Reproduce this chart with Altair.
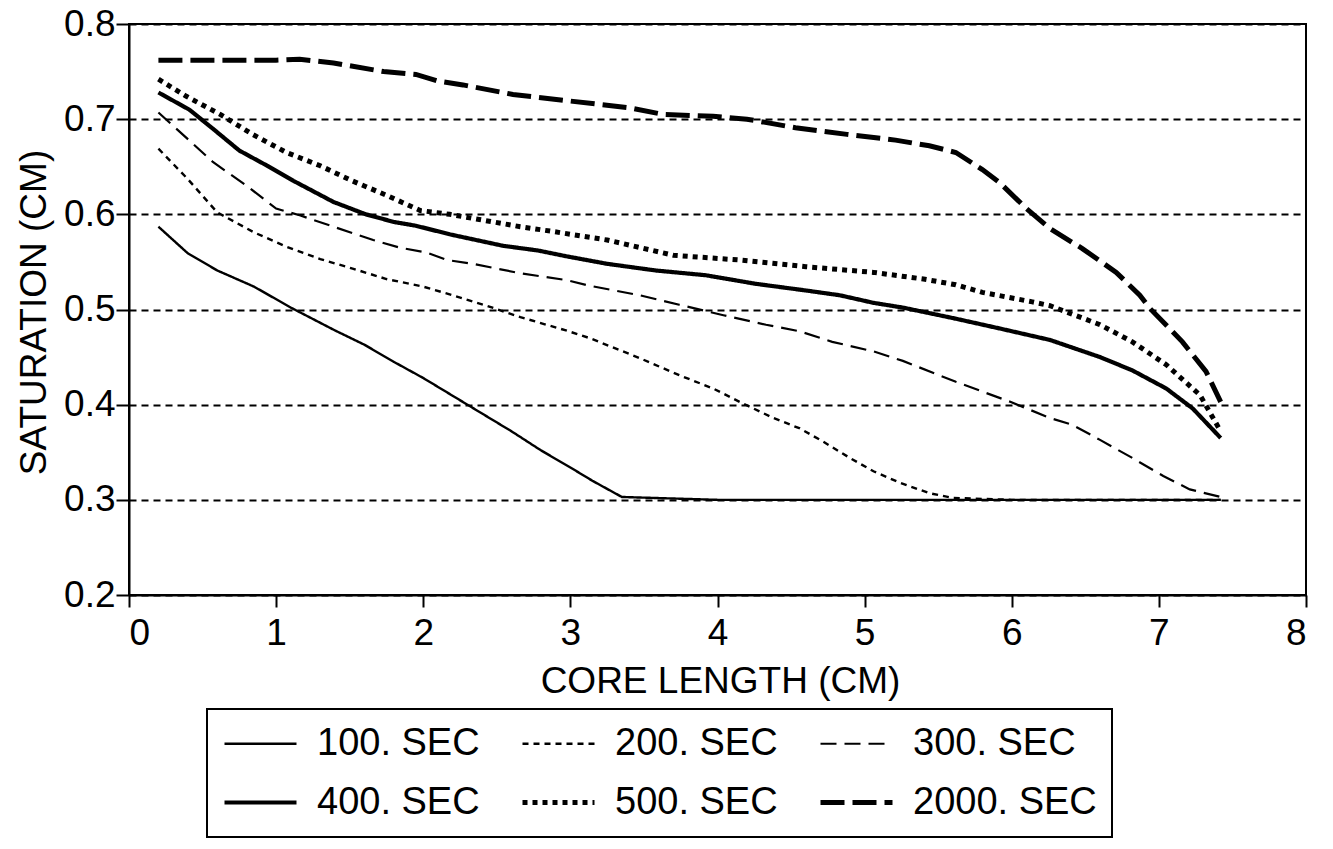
import altair as alt
import pandas as pd

series_names = ["100. SEC", "200. SEC", "300. SEC", "400. SEC", "500. SEC", "2000. SEC"]

s100_x = [0.2, 0.4, 0.6, 0.85, 1.1, 1.4, 1.6, 1.8, 2.0, 2.3, 2.6, 2.8, 3.0, 3.15, 3.35, 4.0, 5.0, 6.0, 7.0, 7.42]
s100_y = [0.587, 0.559, 0.541, 0.524, 0.502, 0.478, 0.463, 0.445, 0.428, 0.400, 0.372, 0.352, 0.334, 0.320, 0.303, 0.300, 0.300, 0.300, 0.300, 0.300]

s200_x = [0.2, 0.4, 0.6, 0.85, 1.07, 1.3, 1.52, 1.75, 2.0, 2.2, 2.43, 2.66, 2.97, 3.13, 3.47, 3.74, 3.97, 4.15, 4.38, 4.56, 4.72, 4.9, 5.06, 5.24, 5.44, 5.6, 6.0, 7.0, 7.42]
s200_y = [0.669, 0.637, 0.602, 0.581, 0.566, 0.553, 0.543, 0.532, 0.524, 0.515, 0.504, 0.492, 0.478, 0.470, 0.449, 0.431, 0.417, 0.403, 0.386, 0.375, 0.361, 0.344, 0.330, 0.318, 0.307, 0.302, 0.300, 0.300, 0.300]

s300_x = [0.2, 0.4, 0.57, 0.8, 1.0, 1.16, 1.39, 1.66, 1.84, 2.02, 2.16, 2.34, 2.66, 2.97, 3.13, 3.47, 3.74, 4.04, 4.33, 4.56, 4.78, 5.06, 5.26, 5.62, 5.99, 6.26, 6.41, 6.6, 6.82, 7.03, 7.21, 7.42]
s300_y = [0.707, 0.679, 0.655, 0.630, 0.606, 0.599, 0.587, 0.573, 0.565, 0.560, 0.552, 0.548, 0.538, 0.531, 0.525, 0.515, 0.505, 0.494, 0.484, 0.477, 0.466, 0.456, 0.446, 0.424, 0.403, 0.386, 0.379, 0.363, 0.344, 0.325, 0.311, 0.303]

s400_x = [0.2, 0.41, 0.57, 0.75, 0.94, 1.12, 1.39, 1.61, 1.8, 1.95, 2.18, 2.54, 2.78, 2.97, 3.25, 3.58, 3.92, 4.26, 4.6, 4.83, 5.06, 5.26, 5.6, 5.92, 6.26, 6.6, 6.82, 7.05, 7.23, 7.42]
s400_y = [0.728, 0.710, 0.690, 0.667, 0.651, 0.635, 0.613, 0.600, 0.592, 0.588, 0.579, 0.567, 0.562, 0.556, 0.548, 0.541, 0.536, 0.527, 0.520, 0.515, 0.507, 0.502, 0.491, 0.480, 0.468, 0.450, 0.436, 0.417, 0.396, 0.365]

s500_x = [0.2, 0.39, 0.62, 0.84, 1.07, 1.3, 1.52, 1.75, 1.98, 2.18, 2.66, 2.88, 3.25, 3.7, 4.15, 4.6, 5.06, 5.4, 5.62, 5.8, 6.14, 6.26, 6.6, 6.82, 7.05, 7.28, 7.42]
s500_y = [0.742, 0.724, 0.705, 0.684, 0.665, 0.651, 0.635, 0.620, 0.604, 0.600, 0.587, 0.582, 0.573, 0.557, 0.552, 0.545, 0.539, 0.532, 0.526, 0.518, 0.508, 0.504, 0.484, 0.466, 0.442, 0.410, 0.372]

s2000_x = [0.2, 0.6, 1.0, 1.16, 1.39, 1.73, 1.95, 2.1, 2.27, 2.61, 3.0, 3.4, 3.63, 3.97, 4.2, 4.53, 4.88, 5.21, 5.44, 5.62, 5.8, 5.92, 6.1, 6.26, 6.48, 6.71, 6.87, 6.94, 7.16, 7.32, 7.42]
s2000_y = [0.762, 0.762, 0.762, 0.763, 0.759, 0.750, 0.747, 0.740, 0.736, 0.726, 0.719, 0.712, 0.705, 0.703, 0.700, 0.691, 0.684, 0.678, 0.672, 0.665, 0.647, 0.633, 0.606, 0.585, 0.564, 0.539, 0.515, 0.501, 0.466, 0.435, 0.403]

x_ticks = [0, 1, 2, 3, 4, 5, 6, 7, 8]
y_ticks = [0.2, 0.3, 0.4, 0.5, 0.6, 0.7, 0.8]

all_x = [s100_x, s200_x, s300_x, s400_x, s500_x, s2000_x]
all_y = [s100_y, s200_y, s300_y, s400_y, s500_y, s2000_y]

rows = []
for name, xs, ys in zip(series_names, all_x, all_y):
    for i, (xv, yv) in enumerate(zip(xs, ys)):
        rows.append({"series": name, "x": xv, "y": yv, "order": i})
df = pd.DataFrame(rows)

dashes = [[1, 0], [6, 5], [16, 8], [1, 0], [5, 5], [24, 8]]
widths = [2.4, 2.4, 2.2, 4.2, 5, 5]

FONT = "Liberation Sans"

legend = alt.Legend(
    title=None,
    orient="none",
    legendX=78,
    legendY=685,
    direction="horizontal",
    columns=3,
    symbolType="M-2,0H2",
    symbolSize=1296,
    symbolOffset=18,
    symbolStrokeColor="black",
    symbolFillColor="transparent",
    labelFontSize=38,
    labelFont=FONT,
    labelColor="black",
    labelOffset=36,
    labelLimit=400,
    columnPadding=32,
    rowPadding=19,
    padding=15,
    strokeColor="black",
    fillColor="white",
)

chart = (
    alt.Chart(df)
    .mark_line(color="black", clip=True)
    .encode(
        x=alt.X(
            "x:Q",
            scale=alt.Scale(domain=[0, 8], nice=False, zero=False),
            axis=alt.Axis(
                values=x_ticks,
                format="d",
                title="CORE LENGTH (CM)",
                grid=False,
                tickSize=12,
                labelPadding=8,
                titleX=591,
                titleY=97,
                titleAlign="center",
                titleBaseline="alphabetic",
            ),
        ),
        y=alt.Y(
            "y:Q",
            scale=alt.Scale(domain=[0.2, 0.8], nice=False, zero=False),
            axis=alt.Axis(
                values=y_ticks,
                format=".1f",
                title="SATURATION (CM)",
                grid=True,
                gridDash=[7, 5],
                gridColor="black",
                gridWidth=2,
                gridOpacity=1,
                tickSize=13,
                labelPadding=1,
                titleX=-84,
                titleY=288,
                titleAngle=-90,
                titleAlign="center",
                titleBaseline="alphabetic",
            ),
        ),
        strokeDash=alt.StrokeDash(
            "series:N",
            scale=alt.Scale(type="ordinal", domain=series_names, range=dashes),
            legend=legend,
        ),
        strokeWidth=alt.StrokeWidth(
            "series:N",
            scale=alt.Scale(type="ordinal", domain=series_names, range=widths),
            legend=legend,
        ),
        order="order:Q",
    )
    .properties(
        width=1177,
        height=571,
        autosize=alt.AutoSizeParams(type="none"),
        padding={"left": 121, "top": 16, "right": 10, "bottom": 245},
        background="white",
    )
    .configure_view(stroke="black", strokeWidth=2)
    .configure_axis(
        labelFont=FONT,
        titleFont=FONT,
        labelFontSize=37,
        titleFontSize=37,
        titleFontWeight="normal",
        labelColor="black",
        titleColor="black",
        domainColor="black",
        domainWidth=2,
        tickColor="black",
        tickWidth=2,
    )
    .configure_legend(strokeWidth=2)
)

chart.save("out.html", embed_options={"renderer": "svg", "actions": False})
